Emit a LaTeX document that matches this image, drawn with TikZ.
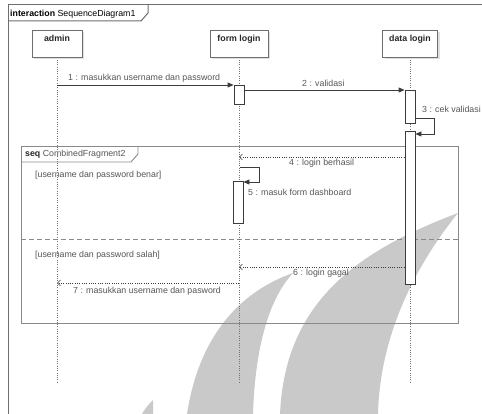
\documentclass[tikz,border=0pt]{standalone}
\usepackage{fontspec}
\setmainfont{Liberation Sans}
\usetikzlibrary{arrows.meta,shadows}

\definecolor{framecol}{HTML}{6E6E6E}
\definecolor{fragcol}{HTML}{8A8A8A}
\definecolor{linecol}{HTML}{3C3C3C}
\definecolor{txtcol}{HTML}{555555}
\definecolor{markcol}{HTML}{C9C9C9}

\begin{document}
\begin{tikzpicture}[x=1pt,y=-1pt,
  font=\fontsize{8.8}{10}\selectfont,
  headbox/.style={draw=framecol, fill=white, line width=0.8pt, inner sep=0pt,
    minimum height=27pt,
    drop shadow={shadow xshift=2pt, shadow yshift=-2pt, fill=black!12, opacity=1}},
  headtext/.style={font=\bfseries\fontsize{8.8}{10}\selectfont, text=black!85, inner sep=0pt},
  lifeline/.style={draw=black!55, line width=0.7pt, dash pattern=on 1pt off 1.3pt},
  actbox/.style={draw=linecol, fill=white, line width=0.8pt, minimum width=10pt, inner sep=0pt},
  callmsg/.style={draw=linecol, line width=0.8pt, -{Triangle[length=6pt,width=5pt]}},
  retmsg/.style={draw=linecol, line width=0.7pt, dash pattern=on 1pt off 1.3pt,
    -{Straight Barb[length=3pt,width=6pt]}},
  msgtext/.style={text=txtcol, inner sep=0pt, anchor=base west},
  frame/.style={draw=framecol, line width=1pt},
  fragline/.style={draw=fragcol, line width=0.9pt}
]
\useasboundingbox (0,0) rectangle (482,414);

% background watermark blades
\fill[markcol] (293,273) .. controls (245,290) and (200,330) .. (187,414)
  -- (253,414) .. controls (255,350) and (268,300) .. (293,273) -- cycle;
\fill[markcol] (458,213) .. controls (360,250) and (285,300) .. (280,414)
  -- (378,414) .. controls (380,330) and (420,260) .. (458,213) -- cycle;
\fill[markcol] (153,400) .. controls (148,405) and (144,410) .. (142,414)
  -- (153,414) -- cycle;

% interaction frame
\draw[frame] (8,420) -- (8,5) -- (490,5);
\draw[frame] (8,21) -- (141,21) -- (148,13) -- (148,5);
\node[anchor=base west, inner sep=0pt] (title) at (10,16.5)
  {\textbf{interaction} SequenceDiagram1};

% combined fragment
\draw[fragline] (21,146) rectangle (458,323);
\draw[fragline] (21,162) -- (131,162) -- (138,154) -- (138,146);
\draw[fragcol, line width=1pt, dash pattern=on 5pt off 3pt] (21,240) -- (458,240);
\node[anchor=base west, inner sep=0pt, text=txtcol] (fragtitle) at (25,156.5)
  {\textbf{\color{black!85}seq} CombinedFragment2};
\node[msgtext] (guard1) at (35,178) {[username dan password benar]};
\node[msgtext] (guard2) at (35,258) {[username dan password salah]};

% lifeline heads
\node[headbox, minimum width=50pt] (admin) at (57,43.5) {};
\node[headbox, minimum width=58pt] (form) at (239,43.5) {};
\node[headbox, minimum width=55pt] (data) at (410,43.5) {};
\node[headtext, anchor=base] (admint) at (57,42) {admin};
\node[headtext, anchor=base] (formt) at (239,42) {form login};
\node[headtext, anchor=base] (datat) at (410,42) {data login};

% lifelines
\coordinate (adminEnd) at (57,383);
\coordinate (formEnd) at (239,383);
\coordinate (dataEnd) at (410,383);
\draw[lifeline] (admin.south) -- (adminEnd);
\draw[lifeline] (form.south) -- (formEnd);
\draw[lifeline] (data.south) -- (dataEnd);

% activations
\node[actbox, minimum height=19pt, anchor=north] (fa1) at (239,85) {};
\node[actbox, minimum height=33pt, anchor=north] (da1) at (410,90) {};
\node[actbox, minimum height=153pt, anchor=north] (da2) at (410,131) {};
\node[actbox, minimum height=42pt, anchor=north] (fa2) at (238,181) {};

% lifeline points
\coordinate (a1) at (57,85);
\coordinate (l3a) at (434,118);
\coordinate (l3b) at (434,134);
\coordinate (f4) at (239,157);
\coordinate (l5s) at (240,167);
\coordinate (l5a) at (259,167);
\coordinate (l5b) at (259,182);
\coordinate (f6) at (239,267);
\coordinate (f7) at (239,283);
\coordinate (a7) at (57,283);

% messages
\draw[callmsg] (a1) -- (fa1.west |- a1);
\node[msgtext] (m1) at (68,81) {1 : masukkan username dan password};

\draw[callmsg] (fa1.east |- 0,90) -- (da1.west |- 0,90);
\node[msgtext] (m2) at (302,87) {2 : validasi};

\draw[callmsg] (da1.east |- l3a) -- (l3a) -- (l3b) -- (da2.east |- l3b);
\node[msgtext] (m3) at (422,113) {3 : cek validasi};

\draw[retmsg] (da2.west |- f4) -- (f4);
\node[msgtext] (m4) at (289,166) {4 : login berhasil};

\draw[callmsg] (l5s) -- (l5a) -- (l5b) -- (fa2.east |- l5b);
\node[msgtext] (m5) at (248,196) {5 : masuk form dashboard};

\draw[retmsg] (da2.west |- f6) -- (f6);
\node[msgtext] (m6) at (293,276) {6 : login gagal};

\draw[retmsg] (f7) -- (a7);
\node[msgtext] (m7) at (73,294) {7 : masukkan username dan pasword};
\end{tikzpicture}
\end{document}
